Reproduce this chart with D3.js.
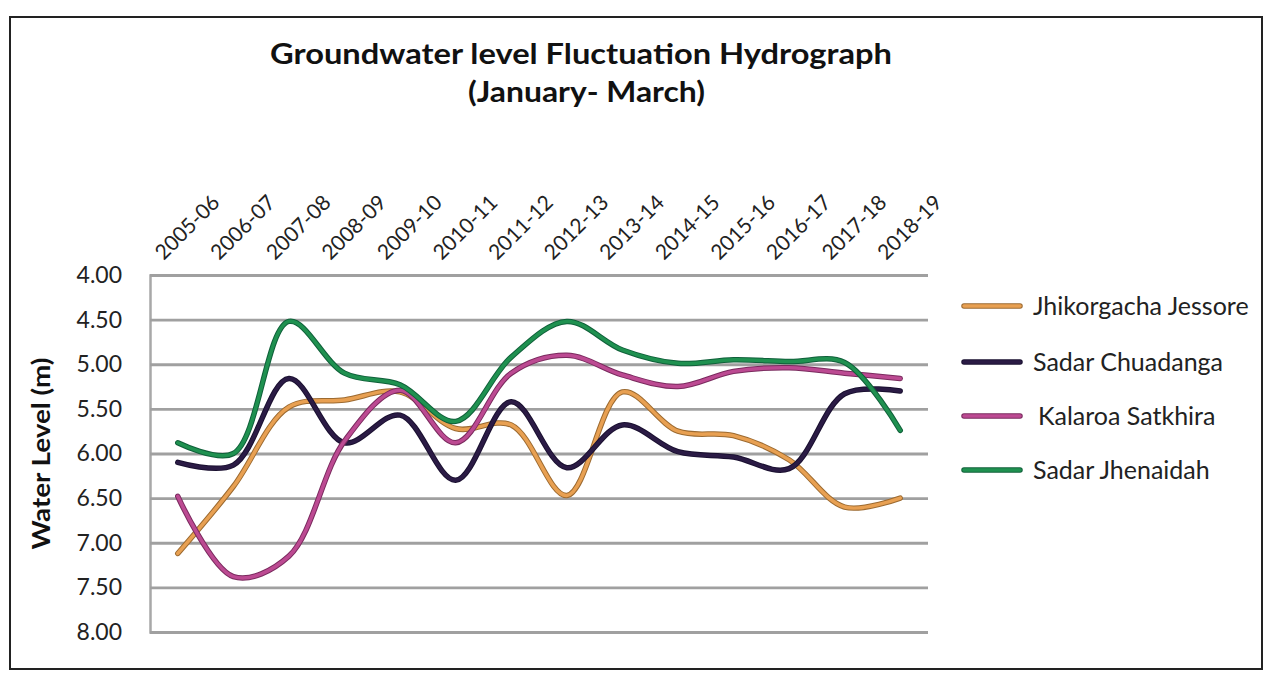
<!DOCTYPE html>
<html><head><meta charset="utf-8">
<script src="https://cdn.jsdelivr.net/npm/d3@7"></script>
<style>body{margin:0;background:#fff}</style>
</head><body>
<svg id="c" width="1272" height="675"></svg>
<script>
const categories = ["2005-06","2006-07","2007-08","2008-09","2009-10","2010-11","2011-12","2012-13","2013-14","2014-15","2015-16","2016-17","2017-18","2018-19"];
const jhikorgachaJessore = [7.12,6.37,5.48,5.40,5.31,5.72,5.68,6.47,5.31,5.75,5.80,6.07,6.60,6.50];
const sadarChuadanga    = [6.10,6.13,5.16,5.88,5.57,6.30,5.42,6.16,5.68,5.98,6.04,6.17,5.33,5.30];
const kalaroaSatkhira   = [6.48,7.38,7.15,5.86,5.29,5.88,5.10,4.90,5.12,5.25,5.08,5.04,5.10,5.16];
const sadarJhenaidah    = [5.88,6.00,4.52,5.10,5.23,5.64,4.92,4.52,4.84,4.99,4.95,4.97,4.98,5.74];
const yTicks = [4.00,4.50,5.00,5.50,6.00,6.50,7.00,7.50,8.00];
const seriesNames = ["Jhikorgacha Jessore","Sadar Chuadanga","Kalaroa Satkhira","Sadar Jhenaidah"];
const seriesColors = ["#E8A052","#2B1B45","#BC4A92","#1F9150"];
const seriesEdge = ["#9C6A30","#1a1030","#7a2a5e","#10603a"];
const series = [jhikorgachaJessore,sadarChuadanga,kalaroaSatkhira,sadarJhenaidah];

const svg = d3.select("#c");
const font = "Lato, 'Open Sans', sans-serif";

// outer frame
svg.append("rect").attr("x",10).attr("y",17).attr("width",1252).attr("height",652)
  .attr("fill","none").attr("stroke","#222").attr("stroke-width",2);

const L=150, R=928, T=275, B=632;
const x = d3.scaleBand().domain(categories).range([L,R]);
const y = d3.scaleLinear().domain([4,8]).range([T,B]);

// gridlines + y ticks
const gy = svg.append("g").attr("transform",`translate(${L},0)`)
  .call(d3.axisLeft(y).tickValues(yTicks).tickSize(-(R-L)).tickFormat(d3.format(".2f")).tickPadding(28));
gy.select(".domain").attr("stroke","#a8a8a8").attr("stroke-width",2.5);
gy.selectAll(".tick line").attr("stroke","#a0a0a0").attr("stroke-width",2.8);
gy.selectAll(".tick text").attr("font-family",font).attr("font-size",23).attr("fill","#222");

// x axis labels (top, rotated)
const gx = svg.append("g").attr("transform",`translate(0,${T})`)
  .call(d3.axisTop(x).tickSize(0).tickPadding(0));
gx.select(".domain").remove();
gx.selectAll(".tick text").attr("font-family",font).attr("font-size",21).attr("fill","#222")
  .attr("text-anchor","start").attr("transform","translate(-14,-14) rotate(-45)").attr("dy","0");

// lines
const line = d3.line().x((d,i)=>x(categories[i])+x.bandwidth()/2).y(d=>y(d)).curve(d3.curveCatmullRom.alpha(0.5));
series.forEach((s,k)=>{
  svg.append("path").datum(s).attr("d",line).attr("fill","none").attr("stroke",seriesEdge[k]).attr("stroke-width",5.5).attr("stroke-linecap","round");
  svg.append("path").datum(s).attr("d",line).attr("fill","none").attr("stroke",seriesColors[k]).attr("stroke-width",3.5).attr("stroke-linecap","round");
});

// titles
svg.append("text").attr("x",270).attr("y",64).attr("font-family",font)
  .attr("font-weight","bold").attr("font-size",29).attr("fill","#111")
  .attr("textLength",622).attr("lengthAdjust","spacingAndGlyphs").text("Groundwater level  Fluctuation Hydrograph");
svg.append("text").attr("x",468).attr("y",102).attr("font-family",font)
  .attr("font-weight","bold").attr("font-size",29).attr("fill","#111")
  .attr("textLength",237).attr("lengthAdjust","spacingAndGlyphs").text("(January- March)");
svg.append("text").attr("transform",`translate(50,${(T+B)/2}) rotate(-90)`).attr("text-anchor","middle")
  .attr("font-family",font).attr("font-weight","bold").attr("font-size",24).attr("fill","#111")
  .attr("textLength",192).attr("lengthAdjust","spacingAndGlyphs").text("Water Level (m)");

// legend
const legY = [306,362,416,470];
seriesNames.forEach((n,k)=>{
  svg.append("line").attr("x1",964).attr("x2",1020).attr("y1",legY[k]).attr("y2",legY[k]).attr("stroke",seriesEdge[k]).attr("stroke-width",5.5).attr("stroke-linecap","round");
  svg.append("line").attr("x1",964).attr("x2",1020).attr("y1",legY[k]).attr("y2",legY[k]).attr("stroke",seriesColors[k]).attr("stroke-width",3.5).attr("stroke-linecap","round");
  svg.append("text").attr("x",1033+(k==2?5:0)).attr("y",legY[k]+9).attr("font-family",font).attr("font-size",25).attr("fill","#222").text(n);
});
</script>
</body></html>
